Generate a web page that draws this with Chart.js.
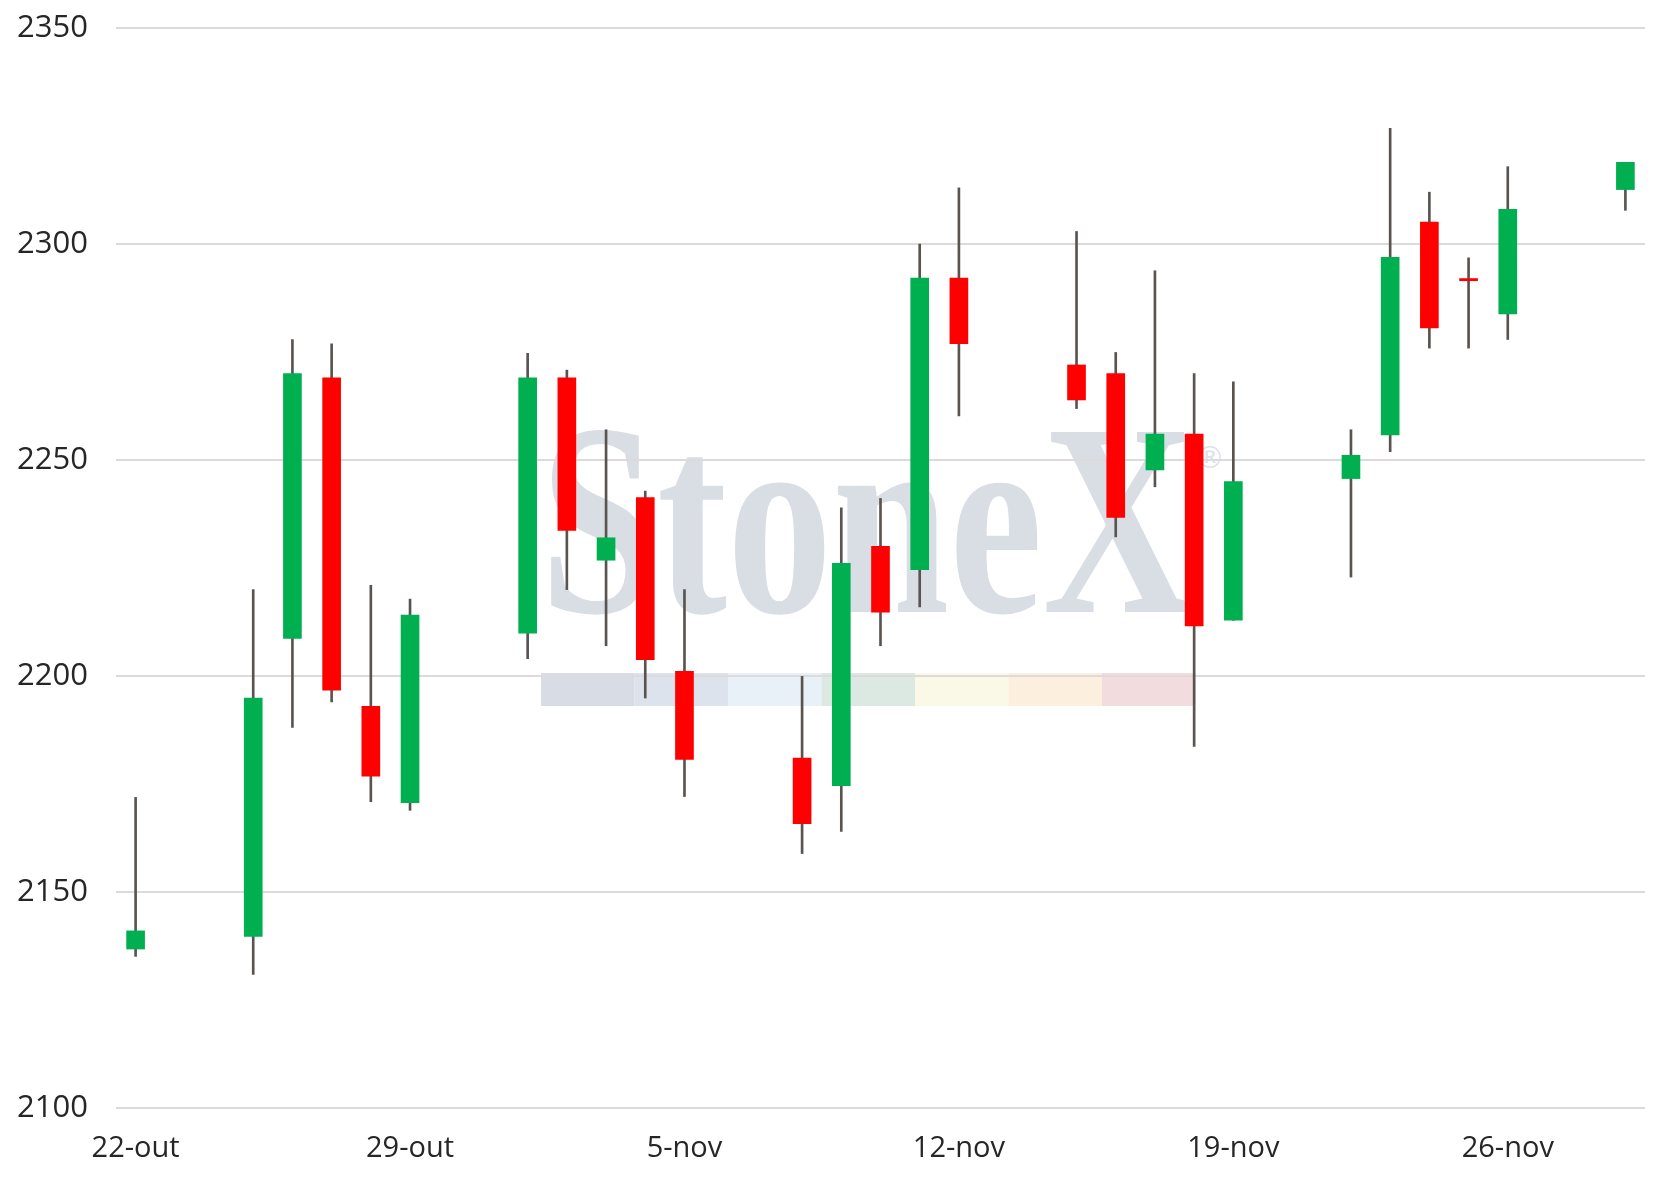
<!DOCTYPE html>
<html>
<head>
<meta charset="utf-8">
<script src="https://cdn.jsdelivr.net/npm/chart.js@4.4.1/dist/chart.umd.min.js"></script>
<style>
  html, body { margin: 0; padding: 0; background: #fff; }
  canvas { display: block; }
</style>
</head>
<body>
<canvas id="chart-candles" width="1659" height="1178"></canvas>
<script>
// dias corridos desde 22-out (fins de semana ficam vazios)
var tradingDay = [0, 3, 4, 5, 6, 7, 10, 11, 12, 13, 14, 17, 18, 19, 20, 21, 24, 25, 26, 27, 28, 31, 32, 33, 34, 35, 38];
var tickLabels = ["22-out", "29-out", "5-nov", "12-nov", "19-nov", "26-nov"];
var yTicks = [2100, 2150, 2200, 2250, 2300, 2350];

var openPx  = [2136.8, 2139.7, 2208.7, 2269.0, 2193.0, 2170.7, 2209.9, 2269.0, 2226.8, 2241.3, 2201.1, 2181.0, 2174.6, 2230.0, 2224.6, 2292.1, 2272.0, 2270.0, 2247.7, 2256.0, 2212.9, 2245.7, 2255.8, 2305.1, 2292.0, 2283.8, 2312.6];
var highPx  = [2171.9, 2220.0, 2277.9, 2276.9, 2221.0, 2217.8, 2274.7, 2270.8, 2257.0, 2242.8, 2220.0, 2199.9, 2238.9, 2241.1, 2300.0, 2313.0, 2302.9, 2274.9, 2293.8, 2270.0, 2268.1, 2257.0, 2326.8, 2312.0, 2296.8, 2317.9, 2318.9];
var lowPx   = [2135.1, 2130.9, 2188.1, 2194.0, 2170.9, 2168.9, 2204.0, 2220.0, 2207.0, 2194.9, 2172.1, 2158.9, 2164.0, 2207.0, 2216.0, 2260.2, 2261.9, 2232.2, 2243.8, 2183.7, 2212.9, 2222.9, 2251.9, 2275.9, 2275.9, 2277.9, 2307.8];
var closePx = [2141.0, 2194.9, 2270.0, 2196.7, 2176.8, 2214.1, 2269.0, 2233.7, 2232.0, 2203.8, 2180.7, 2165.8, 2226.1, 2214.8, 2292.1, 2276.9, 2263.9, 2236.7, 2256.0, 2211.6, 2245.0, 2251.1, 2296.9, 2280.6, 2291.5, 2308.0, 2318.9];

var wicks = tradingDay.map(function (d, i) { return { x: d, y: [lowPx[i], highPx[i]] }; });
var bodies = tradingDay.map(function (d, i) { return { x: d, y: [openPx[i], closePx[i]] }; });
var bodyColors = tradingDay.map(function (d, i) { return closePx[i] >= openPx[i] ? "#00b050" : "#ff0000"; });

// marca d'agua StoneX atras do grafico
var watermark = {
  id: "watermark",
  beforeDraw: function (chart) {
    var ctx = chart.ctx;
    var a = chart.chartArea;
    ctx.save();
    ctx.fillStyle = "#d9dee5";
    ctx.translate(a.left + 424, a.top + 584);
    ctx.scale(0.765, 1);
    ctx.font = 'bold 275px "Liberation Serif"';
    ctx.textBaseline = "alphabetic";
    ctx.fillText("StoneX", 0, 0);
    ctx.restore();

    ctx.save();
    ctx.fillStyle = "#dde2e8";
    ctx.font = '30px "DejaVu Sans"';
    ctx.textAlign = "center";
    ctx.textBaseline = "middle";
    ctx.fillText("\u00AE", a.left + 1094, a.top + 432);
    ctx.restore();

    var strip = ["#d8dde5", "#dce3ec", "#e8f0f8", "#dce8e2", "#faf8e6", "#fcefde", "#f3dcde"];
    ctx.save();
    for (var i = 0; i < strip.length; i++) {
      ctx.fillStyle = strip[i];
      ctx.fillRect(a.left + 425 + i * 93.5, a.top + 645, 93.5, 33);
    }
    ctx.restore();
  },
};

var ctx1 = document.getElementById("chart-candles").getContext("2d");
new Chart(ctx1, {
  type: "bar",
  data: {
    datasets: [
      {
        label: "pavio",
        data: wicks,
        backgroundColor: "#5a5451",
        barThickness: 2,
        grouped: false,
        order: 2,
      },
      {
        label: "corpo",
        data: bodies,
        backgroundColor: bodyColors,
        barThickness: 18,
        minBarLength: 2,
        grouped: false,
        order: 1,
      },
    ],
  },
  plugins: [watermark],
  options: {
    responsive: false,
    devicePixelRatio: 1,
    animation: false,
    layout: {
      padding: { left: 18, right: 14, top: 28, bottom: 14 },
    },
    plugins: {
      legend: { display: false },
      tooltip: { enabled: false },
    },
    scales: {
      x: {
        type: "linear",
        min: -0.5,
        max: 38.5,
        offset: false,
        afterBuildTicks: function (axis) {
          axis.ticks = tickLabels.map(function (t, i) { return { value: i * 7 }; });
        },
        afterFit: function (axis) { axis.height = 56; },
        grid: { display: false, drawTicks: false },
        border: { display: false },
        ticks: {
          autoSkip: false,
          maxRotation: 0,
          padding: 23,
          color: "#262626",
          font: { size: 29, family: "Open Sans" },
          callback: function (v) { return tickLabels[v / 7]; },
        },
      },
      y: {
        min: 2100,
        max: 2350,
        afterBuildTicks: function (axis) {
          axis.ticks = yTicks.map(function (v) { return { value: v }; });
        },
        afterFit: function (axis) {
          axis.width = 98;
          axis.paddingTop = 0;
          axis.paddingBottom = 0;
        },
        grid: {
          color: "#dedadb",
          lineWidth: 2,
          drawTicks: false,
        },
        border: { display: false },
        ticks: {
          padding: 28,
          color: "#262626",
          font: { size: 31, family: "Open Sans" },
          callback: function (v) { return String(v); },
        },
      },
    },
  },
});
</script>
</body>
</html>
